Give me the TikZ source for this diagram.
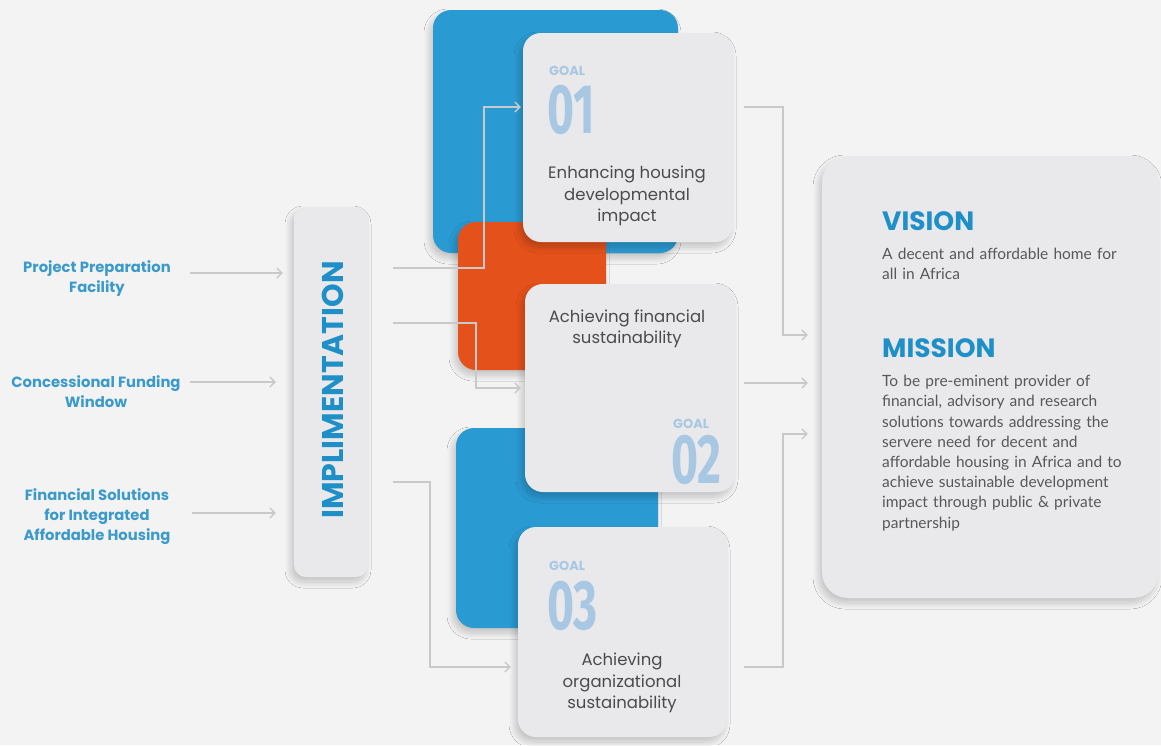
\documentclass[tikz,border=0pt]{standalone}
\usepackage{fontspec}
\setmainfont{Poppins}
\newfontfamily\lato{Lato}
\newfontfamily\fira{Fira Sans}
\usetikzlibrary{arrows.meta,shadows.blur}
\definecolor{bgc}{HTML}{F3F3F4}
\definecolor{cardc}{HTML}{E9E9EC}
\definecolor{bluec}{HTML}{2A9AD3}
\definecolor{orangec}{HTML}{E4511B}
\definecolor{labelc}{HTML}{3C9ACB}
\definecolor{numc}{HTML}{A8C7E2}
\definecolor{linec}{HTML}{C9C9CB}
\definecolor{textc}{HTML}{4B4B4E}
\definecolor{headc}{HTML}{1F8FC8}
\definecolor{bodyc}{HTML}{58585B}
\begin{document}
\begin{tikzpicture}[x=1pt,y=-1pt,
  shad/.style={blur shadow={shadow xshift=-3pt,shadow yshift=-5pt,shadow blur steps=10,shadow blur radius=6pt,shadow opacity=20}},
  card/.style={shad,fill=cardc,rounded corners=18pt,inner sep=0pt},
  sq/.style={shad,rounded corners=18pt,inner sep=0pt},
  conn/.style={draw=linec,line width=1.8pt},
  arr/.style={conn,-{Straight Barb[length=5pt,width=10pt,line width=1.4pt]}},
  lab/.style={font=\bfseries\fontsize{14.8}{20}\selectfont,text=labelc,align=center,inner sep=0pt},
  goal/.style={font=\bfseries\fontsize{13}{13}\selectfont,text=numc,inner sep=0pt,anchor=base west},
  num/.style={font=\fira\bfseries\fontsize{70}{70}\selectfont,text=numc,inner sep=0pt,anchor=base west,xscale=0.66},
  body/.style={font=\fontsize{16.5}{21.5}\selectfont,text=textc,align=center,inner sep=0pt},
  head/.style={font=\bfseries\fontsize{26.5}{26.5}\selectfont,text=headc,inner sep=0pt,anchor=base west},
  vtext/.style={font=\lato\fontsize{15.5}{20.2}\selectfont,text=bodyc,align=left,inner sep=0pt,anchor=north west,text width=275pt}
]
\fill[bgc] (0,0) rectangle (1161,745);
\useasboundingbox (0,0) rectangle (1161,745);

% left labels
\node[lab] (l1) at (97,279) {Project Preparation\\Facility};
\node[lab] (l2) at (96,392) {Concessional Funding\\Window};
\node[lab] (l3) at (97,517) {Financial Solutions\\for Integrated\\Affordable Housing};

% implementation bar
\node[card,rounded corners=12pt,minimum width=74pt,minimum height=370pt] (impl) at (331,392) {};
\node[rotate=90,font=\bfseries\fontsize{30}{30}\selectfont,text=headc,inner sep=0pt] (implt) at (333,390) {IMPLIMENTATION};

% coloured squares and cards
\node[sq,fill=bluec,minimum width=245pt,minimum height=243pt] (bA) at (555.5,131.5) {};
\node[sq,fill=orangec,minimum width=148pt,minimum height=148pt] (oA) at (532,296) {};
\node[sq,fill=bluec,minimum width=202pt,minimum height=200pt] (bB) at (557,528) {};
\node[card,minimum width=210pt,minimum height=209pt] (g1) at (628,137.5) {};
\node[card,minimum width=210pt,minimum height=208pt] (g2) at (630,388) {};
\node[card,minimum width=209pt,minimum height=210pt] (g3) at (622.5,632) {};
\node[card,rounded corners=26pt,minimum width=337pt,minimum height=442pt] (vm) at (990.5,377) {};

% left arrows
\draw[arr] (l1.east -| 190,0) ++(0,-6) -- ([xshift=-11pt]impl.west |- 0,273);
\draw[arr] (l2.east -| 190,0) ++(0,-10) -- ([xshift=-18pt]impl.west |- 0,382);
\draw[arr] (l3.east -| 192,0) ++(0,-4) -- ([xshift=-18pt]impl.west |- 0,513);

% connectors implementation -> goals
\draw[arr] ([xshift=25pt]impl.east |- 0,268) -| (484,107) -- ([xshift=-2pt]g1.west |- 0,107);
\draw[arr] ([xshift=25pt]impl.east |- 0,323) -| (476,388) -- ([xshift=-4pt]g2.west |- 0,388);
\draw[arr] ([xshift=25pt]impl.east |- 0,482) -| (430,667) -- ([xshift=-7pt]g3.west |- 0,667);

% connectors goals -> vision/mission
\draw[arr] ([xshift=11pt]g1.east |- 0,107) -| (783,335) -- ([xshift=-14pt]vm.west |- 0,335);
\draw[arr] ([xshift=9pt]g2.east |- 0,383) -- ([xshift=-14pt]vm.west |- 0,383);
\draw[arr] ([xshift=17pt]g3.east |- 0,667) -| (783,434) -- ([xshift=-14pt]vm.west |- 0,434);

% goal 1
\node[goal] (g1l) at (549,75) {GOAL};
\node[num] (g1n) at (547,133) {01};
\node[body] (g1t) at (627,196) {Enhancing housing\\developmental\\impact};
% goal 2
\node[body] (g2t) at (627,329) {Achieving financial\\sustainability};
\node[goal] (g2l) at (673,428) {GOAL};
\node[num] (g2n) at (671,483) {02};
% goal 3
\node[goal] (g3l) at (549,570) {GOAL};
\node[num] (g3n) at (547,629) {03};
\node[body] (g3t) at (622,683) {Achieving\\organizational\\sustainability};

% vision / mission
\node[head] (vh) at (882,230) {VISION};
\node[vtext] (vt) at (882,248) {A decent and affordable home for\\all in Africa};
\node[head] (mh) at (882,357) {MISSION};
\node[vtext] (mt) at (882,375) {To be pre-eminent provider of\\financial, advisory and research\\solutions towards addressing the\\servere need for decent and\\affordable housing in Africa and to\\achieve sustainable development\\impact through public \& private\\partnership};
\end{tikzpicture}
\end{document}
